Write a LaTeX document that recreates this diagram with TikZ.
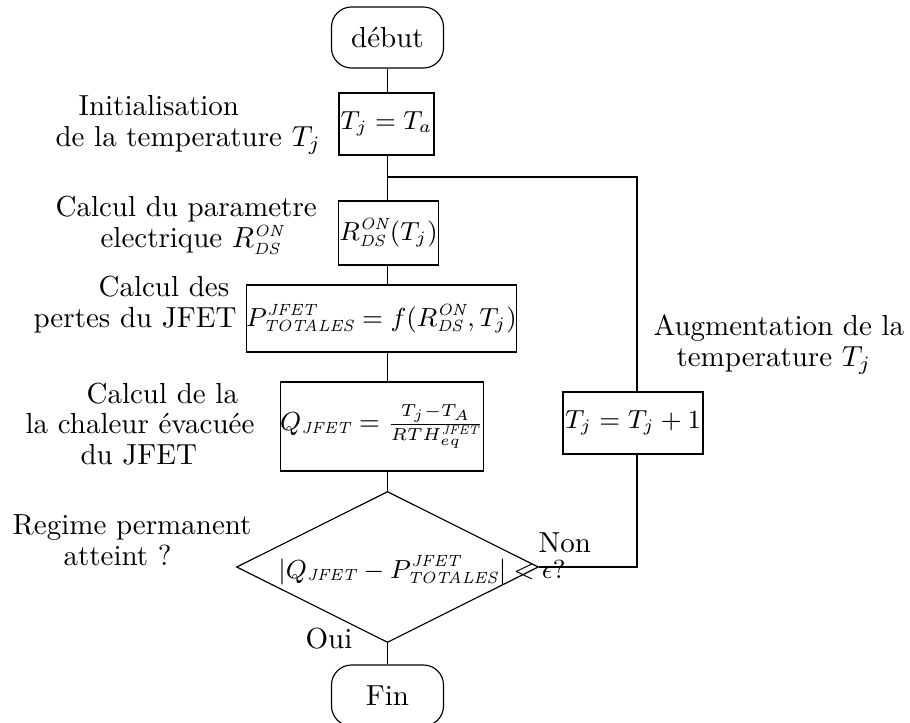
\documentclass[tikz,border=0pt]{standalone}
\usepackage{fontspec}
\usetikzlibrary{shapes.geometric}
\newdimen\pxd
\pxd=0.3448pt
\newcommand\sub[1]{\hbox{\fontsize{5.6}{6}\selectfont\itshape #1}}
\newcommand\ssub[1]{\hbox{\fontsize{4.3}{5}\selectfont\itshape #1}}
\tikzset{
  every node/.style={font=\fontsize{10}{10.35}\selectfont},
  mathfont/.style={font=\fontsize{9}{10}\selectfont},
  conn/.style={draw=black, line width=0.4pt},
  terminal/.style={draw=black, line width=0.4pt, rectangle, rounded corners=6.9pt, inner sep=0pt},
  procbox/.style={draw=black, line width=0.4pt, rectangle, inner sep=0pt, mathfont},
  decision/.style={draw=black, line width=0.4pt, diamond, inner sep=0pt},
  note/.style={inner sep=0pt, anchor=base west, align=left},
}
\begin{document}
\begin{tikzpicture}[x=\pxd,y=-\pxd]
\useasboundingbox (0,0) rectangle (910,722);
% main column
\node[terminal, minimum width=112*\pxd, minimum height=61*\pxd] (debut) at (387.5,37.5) {début};
\node[procbox, minimum width=95*\pxd, minimum height=62*\pxd] (ta) at (386.5,124) {$T_j = T_a$};
\coordinate (split) at (387.5,177);
\node[procbox, minimum width=100*\pxd, minimum height=64*\pxd] (rds) at (388.5,233) {$R^{\sub{ON}}_{\sub{DS}}(T_j)$};
\node[procbox, minimum width=259*\pxd, minimum height=67*\pxd] (ptot) at (381.5,318.5) {$P^{\sub{JFET}}_{\sub{TOTALES}} = f(R^{\sub{ON}}_{\sub{DS}},T_j)$};
\node[procbox, minimum width=200*\pxd, minimum height=89*\pxd] (qj) at (382,426.5) {$Q_{\sub{JFET}} = \frac{T_j-T_A}{RTH^{\ssub{JFET}}_{eq}}$};
\node[decision, minimum width=302*\pxd, minimum height=151*\pxd] (dec) at (387.5,567) {};
\node[inner sep=0pt, anchor=base, mathfont] (dectext) at (422,578) {$|Q_{\sub{JFET}} - P^{\sub{JFET}}_{\sub{TOTALES}}| < \epsilon$?};
\node[terminal, minimum width=112*\pxd, minimum height=61*\pxd] (fin) at (387.5,695.5) {Fin};
% loop
\node[procbox, minimum width=140*\pxd, minimum height=62*\pxd] (inc) at (633,423) {$T_j = T_j + 1$};
\coordinate (c1) at (637,177);
\coordinate (c2) at (637,567);
% connectors
\draw[conn] (debut.south) -- (debut.south |- ta.north);
\draw[conn] (ta.south -| split) -- (split) -- (rds.north -| split);
\draw[conn] (rds.south -| split) -- (ptot.north -| split);
\draw[conn] (ptot.south -| split) -- (qj.north -| split);
\draw[conn] (qj.south -| split) -- (dec.north);
\draw[conn] (dec.south) -- (fin.north);
\draw[conn] (split) -- (c1) -- (inc.north -| c1);
\draw[conn] (inc.south -| c1) -- (c2) -- (dec.east);
% labels
\node[note] (l1) at (55,146) {\hspace*{23\pxd}Initialisation\\de la temperature $T_j$};
\node[note] (l2) at (55,247) {Calcul du parametre\\\hspace*{45\pxd}electrique $R^{\sub{ON}}_{\sub{DS}}$};
\node[note] (l3) at (33,327) {\hspace*{65\pxd}Calcul des\\pertes du JFET};
\node[note] (l4) at (25,464) {\hspace*{61\pxd}Calcul de la\\la chaleur évacuée\\\hspace*{55\pxd}du JFET};
\node[note] (l5) at (12,565) {Regime permanent\\\hspace*{51\pxd}atteint~?};
\node[note] (l6) at (653,366) {Augmentation de la\\\hspace*{23\pxd}temperature $T_j$};
\node[inner sep=0pt, anchor=base west] (non) at (538,552) {Non};
\node[inner sep=0pt, anchor=base west] (oui) at (305,648) {Oui};
\end{tikzpicture}
\end{document}
